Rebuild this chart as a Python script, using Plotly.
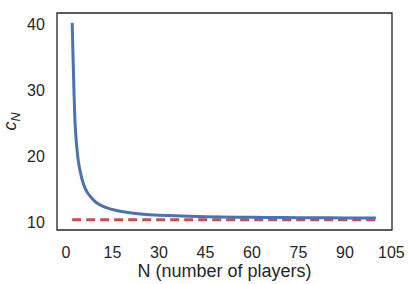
import plotly.graph_objects as go

# Data
n_players = [2, 3, 4, 5, 6, 7, 8, 9, 10, 12, 14, 16, 18, 20, 25, 30, 35, 40,
             50, 60, 70, 80, 90, 100]
c_n = [40.3, 24.5, 19.3, 16.9, 15.4, 14.5, 13.9, 13.4, 13.0, 12.5, 12.15,
       11.9, 11.7, 11.55, 11.3, 11.15, 11.05, 10.97, 10.88, 10.82, 10.78,
       10.75, 10.73, 10.71]
limit_x = [2, 100]
limit_y = [10.45, 10.45]
x_ticks = [0, 15, 30, 45, 60, 75, 90, 105]
y_ticks = [10, 20, 30, 40]

BLUE = "#4C72B0"
RED = "#C44E52"
EDGE = "#262626"
FONT = "Liberation Sans, Arial, sans-serif"

fig = go.Figure()
fig.add_trace(go.Scatter(x=limit_x, y=limit_y, mode="lines",
                         line=dict(color=RED, width=3, dash="9px,5px"),
                         showlegend=False, hoverinfo="skip"))
fig.add_trace(go.Scatter(x=n_players, y=c_n, mode="lines",
                         line=dict(color=BLUE, width=3, shape="spline", smoothing=0.6),
                         showlegend=False))

fig.add_shape(type="rect", xref="paper", yref="paper", x0=0, y0=0, x1=1, y1=1,
              line=dict(color=EDGE, width=1.3), fillcolor="rgba(0,0,0,0)", layer="above")

fig.update_layout(
    width=413, height=284,
    margin=dict(l=57, r=21, t=13, b=54),
    paper_bgcolor="white", plot_bgcolor="white",
    font=dict(family=FONT, size=16, color=EDGE),
)
fig.update_xaxes(
    range=[-2.9, 105.2], tickvals=x_ticks, ticktext=[str(v) for v in x_ticks],
    showgrid=False, zeroline=False, showline=False, automargin=False,
    ticks="outside", ticklen=8, tickcolor="rgba(0,0,0,0)",
    tickfont=dict(size=16),
    title=dict(text="N (number of players)", font=dict(size=18), standoff=2),
)
fig.update_yaxes(
    range=[8.9, 41.8], tickvals=y_ticks, ticktext=[str(v) for v in y_ticks],
    showgrid=False, zeroline=False, showline=False, automargin=False,
    ticks="outside", ticklen=8, tickcolor="rgba(0,0,0,0)",
    tickfont=dict(size=16),
    title=dict(text="<i>c</i><sub><i>N</i></sub>", font=dict(size=18), standoff=6),
)

fig.write_html("out.html", config={"displayModeBar": False},
               post_script="document.body.style.margin='0';document.body.style.overflow='hidden';")
